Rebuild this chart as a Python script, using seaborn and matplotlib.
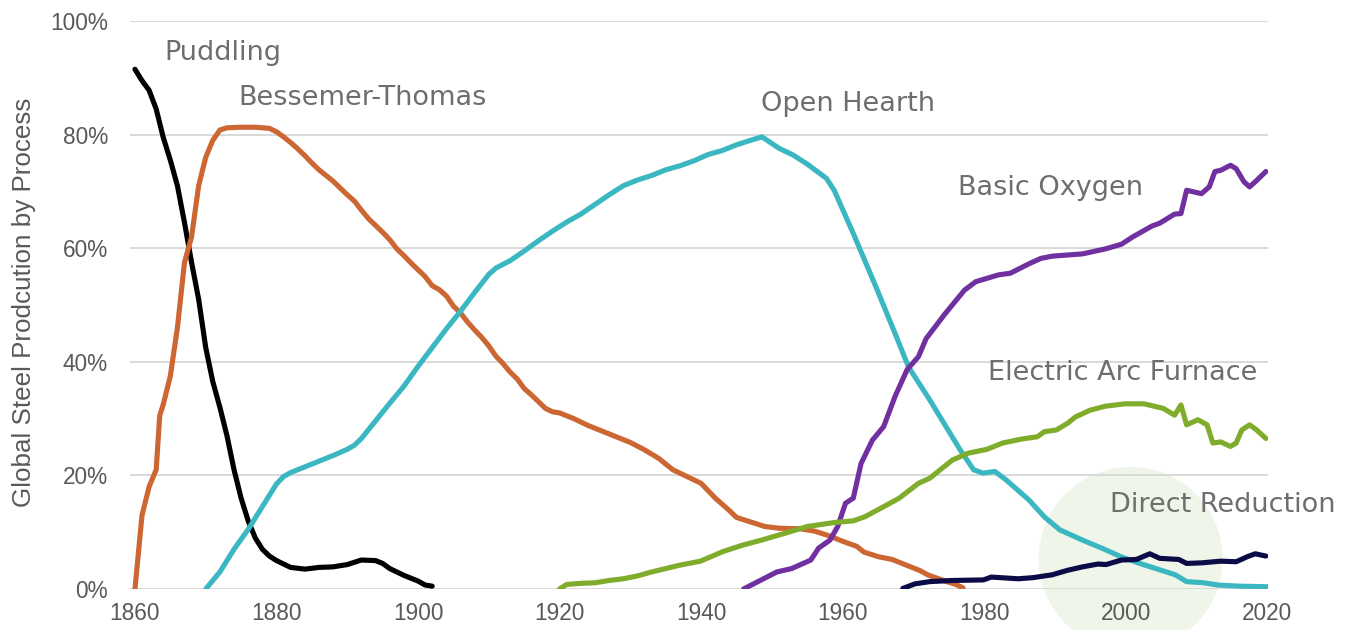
import numpy as np
import pandas as pd
import matplotlib
matplotlib.use("Agg")
import matplotlib.pyplot as plt
from matplotlib.patches import Ellipse
from matplotlib.ticker import FuncFormatter
import seaborn as sns

# ---------------- data (share of global steel production, %) ----------------
puddling_years = [1860, 1861, 1862, 1863, 1864, 1865, 1866, 1867, 1868, 1869, 1870, 1871,
                  1872, 1873, 1874, 1875, 1876, 1877, 1878, 1879, 1880, 1882, 1884, 1886,
                  1888, 1890, 1892, 1894, 1895, 1896, 1898, 1900, 1901, 1902]
puddling_vals = [91.5, 89.5, 87.8, 84.5, 79.5, 75.5, 71.0, 64.5, 57.5, 51.0, 42.5, 36.5,
                 32.0, 27.0, 21.0, 16.0, 12.0, 9.0, 7.0, 5.8, 5.0, 3.8, 3.5, 3.8,
                 3.9, 4.3, 5.1, 5.0, 4.5, 3.6, 2.4, 1.4, 0.7, 0.5]

bessemer_years = [1860, 1861, 1862, 1863, 1863.5, 1864, 1865, 1866, 1867, 1868, 1869, 1870,
                  1871, 1872, 1873, 1875, 1877, 1879, 1880, 1881, 1882, 1883, 1884, 1885,
                  1886, 1887, 1888, 1889, 1890, 1891, 1892, 1893, 1894, 1895, 1896, 1897,
                  1898, 1899, 1900, 1901, 1902, 1903, 1904, 1905, 1906, 1907, 1908, 1909,
                  1910, 1911, 1912, 1913, 1914, 1915, 1916, 1917, 1918, 1919, 1920, 1922,
                  1924, 1926, 1928, 1930, 1932, 1934, 1936, 1938, 1940, 1942, 1944, 1945,
                  1947, 1949, 1951, 1954, 1956, 1958, 1960, 1962, 1963, 1965, 1967, 1969,
                  1971, 1972, 1974, 1976, 1977]
bessemer_vals = [0.0, 13.0, 18.0, 21.0, 30.5, 32.5, 37.5, 46.0, 57.5, 62.0, 71.0, 76.0,
                 79.0, 80.8, 81.2, 81.3, 81.3, 81.1, 80.5, 79.6, 78.6, 77.5, 76.3, 75.0,
                 73.8, 72.8, 71.8, 70.6, 69.4, 68.3, 66.7, 65.2, 64.0, 62.8, 61.5, 59.9,
                 58.7, 57.4, 56.2, 55.0, 53.4, 52.7, 51.6, 49.8, 48.6, 47.0, 45.6, 44.3,
                 42.8, 41.0, 39.7, 38.2, 37.0, 35.3, 34.2, 33.0, 31.8, 31.2, 31.0, 30.0,
                 28.8, 27.8, 26.8, 25.8, 24.5, 23.0, 21.0, 19.8, 18.6, 16.0, 13.8, 12.6,
                 11.8, 11.0, 10.7, 10.6, 10.2, 9.4, 8.4, 7.5, 6.5, 5.7, 5.2, 4.2,
                 3.2, 2.5, 1.6, 0.8, 0.2]

open_hearth_years = [1870, 1871, 1872, 1874, 1876, 1878, 1880, 1881, 1882, 1884, 1886, 1888,
                     1890, 1891, 1892, 1894, 1896, 1898, 1900, 1902, 1904, 1906, 1908, 1910,
                     1911, 1913, 1915, 1917, 1919, 1921, 1923, 1925, 1927, 1929, 1931, 1933,
                     1935, 1937, 1939, 1941, 1943, 1945, 1947, 1948.6, 1951, 1953, 1955,
                     1957.7, 1958.8, 1961.5, 1964.7, 1967.4, 1969.3, 1972.3, 1976.6, 1978.5,
                     1979.8, 1981.5, 1983.1, 1986.3, 1988.5, 1990.7, 1993.9, 1996.6, 1999.3,
                     2002, 2005, 2007, 2008.6, 2011, 2013, 2016, 2020]
open_hearth_vals = [0.0, 1.5, 3.0, 7.0, 10.5, 14.5, 18.5, 19.8, 20.5, 21.5, 22.5, 23.5,
                    24.6, 25.3, 26.5, 29.6, 32.7, 35.7, 39.2, 42.5, 45.8, 48.9, 52.2, 55.4,
                    56.5, 57.8, 59.5, 61.3, 63.0, 64.6, 66.0, 67.7, 69.4, 71.0, 72.0, 72.8,
                    73.8, 74.5, 75.4, 76.5, 77.2, 78.2, 79.0, 79.6, 77.6, 76.4, 74.8,
                    72.3, 70.2, 62.6, 53.2, 45.0, 39.1, 33.3, 24.5, 21.0,
                    20.4, 20.7, 19.2, 15.7, 12.7, 10.4, 8.6, 7.2, 5.7,
                    4.5, 3.3, 2.5, 1.3, 1.1, 0.7, 0.5, 0.4]

basic_oxygen_years = [1946, 1948.5, 1950.7, 1952.8, 1955.5, 1956.6, 1958.2, 1959.3, 1960.4,
                      1961.5, 1962.6, 1964.2, 1965.8, 1967.4, 1969.1, 1970.7, 1971.8, 1974.5,
                      1977.2, 1978.8, 1982, 1983.7, 1986.4, 1988, 1989.6, 1993.9, 1997.2,
                      1999.4, 2001, 2003.7, 2004.8, 2006.9, 2007.8, 2008.6, 2010.7, 2011.8,
                      2012.6, 2013.4, 2014.8, 2015.6, 2016.7, 2017.5, 2018.3, 2019.8]
basic_oxygen_vals = [0.0, 1.6, 3.0, 3.6, 5.1, 7.2, 8.6, 11.0, 15.1,
                     16.0, 22.1, 26.2, 28.6, 33.9, 38.6, 40.9, 44.1, 48.5,
                     52.6, 54.1, 55.3, 55.6, 57.3, 58.2, 58.6, 59.0, 59.9,
                     60.7, 62.0, 63.9, 64.4, 66.0, 66.1, 70.2, 69.6, 70.8,
                     73.5, 73.7, 74.6, 74.0, 71.7, 70.8, 71.7, 73.5]

eaf_years = [1920, 1921, 1923, 1925, 1927, 1929, 1931, 1933, 1935, 1937, 1939.9, 1943.1,
             1945.8, 1948.5, 1951.8, 1955, 1958.8, 1961.5, 1963.1, 1965.8, 1968, 1970.7,
             1972.3, 1975.5, 1977.7, 1980.4, 1982.6, 1985.3, 1987.5, 1988.5, 1990.2,
             1991.8, 1992.9, 1995, 1997.2, 1999.9, 2002.6, 2005.3, 2006.9, 2007.8, 2008.6,
             2010.2, 2011.5, 2012.3, 2013.4, 2014.8, 2015.6, 2016.4, 2017.5, 2018.5, 2019.8]
eaf_vals = [0.0, 0.8, 1.0, 1.1, 1.5, 1.8, 2.3, 3.0, 3.6, 4.2, 4.9, 6.6,
            7.7, 8.6, 9.8, 11.0, 11.7, 12.0, 12.7, 14.5, 16.0, 18.6,
            19.5, 22.7, 23.9, 24.6, 25.7, 26.4, 26.8, 27.7, 28.0,
            29.2, 30.3, 31.5, 32.2, 32.6, 32.6, 31.8, 30.6, 32.4, 28.9,
            29.8, 28.9, 25.7, 25.9, 25.1, 25.7, 28.0, 28.9, 28.0, 26.5]

direct_red_years = [1968.5, 1970.2, 1972.3, 1975.5, 1979.9, 1981, 1984.8, 1986.9, 1989.6,
                    1991.8, 1993.9, 1996.1, 1997.2, 1999.4, 2001.5, 2003.4, 2004.8, 2007.5,
                    2008.6, 2010.7, 2013.4, 2015.6, 2017.2, 2018.3, 2019.8]
direct_red_vals = [0.1, 0.9, 1.3, 1.5, 1.6, 2.1, 1.8, 2.0, 2.5,
                   3.3, 3.9, 4.4, 4.3, 5.1, 5.2, 6.2, 5.4, 5.2,
                   4.5, 4.6, 4.9, 4.8, 5.7, 6.2, 5.8]

process_names = ["Puddling", "Bessemer-Thomas", "Open Hearth", "Basic Oxygen",
                 "Electric Arc Furnace", "Direct Reduction"]
x_ticks = [1860, 1880, 1900, 1920, 1940, 1960, 1980, 2000, 2020]
y_ticks = [0, 20, 40, 60, 80, 100]

# ---------------- build long table ----------------
series = [(puddling_years, puddling_vals), (bessemer_years, bessemer_vals),
          (open_hearth_years, open_hearth_vals), (basic_oxygen_years, basic_oxygen_vals),
          (eaf_years, eaf_vals), (direct_red_years, direct_red_vals)]
frames = []
for name, (yrs, vals) in zip(process_names, series):
    frames.append(pd.DataFrame({"Year": yrs, "Share": vals, "Process": name}))
df = pd.concat(frames, ignore_index=True)

palette = {"Puddling": "#000000", "Bessemer-Thomas": "#CC6633",
           "Open Hearth": "#3AB7C1", "Basic Oxygen": "#7030A0",
           "Electric Arc Furnace": "#80AC2C", "Direct Reduction": "#0B0B48"}

sns.set_theme(style="white")
plt.rcParams["font.family"] = ["Liberation Sans", "DejaVu Sans"]

fig = plt.figure(figsize=(13.53, 6.30), dpi=100)
ax = fig.add_axes([130 / 1353, 1 - 589 / 630, (1268 - 130) / 1353, (589 - 21) / 630])

# highlight circle behind Direct Reduction
circ = Ellipse((2000.7, 5.3), width=26.0, height=32.4, facecolor="#EFF5E8",
               edgecolor="none", zorder=0.2, clip_on=False)
ax.add_patch(circ)

sns.lineplot(data=df, x="Year", y="Share", hue="Process", palette=palette,
             hue_order=process_names, linewidth=3.7, legend=False, ax=ax,
             estimator=None, sort=False)
for ln in ax.lines:
    ln.set_solid_capstyle("round")
    ln.set_solid_joinstyle("round")
    ln.set_zorder(3)

ax.set_xlim(1859.3, 2020.1)
ax.set_ylim(0, 100)
ax.set_xticks(x_ticks)
ax.set_yticks(y_ticks)
ax.yaxis.set_major_formatter(FuncFormatter(lambda v, p: f"{int(v)}%"))
ax.grid(axis="y", color="#D9D9D9", linewidth=1.4)
ax.grid(axis="x", visible=False)
ax.set_axisbelow(True)
for s in ax.spines.values():
    s.set_visible(False)
ax.tick_params(axis="both", length=0, labelsize=16.3, colors="#595959")
ax.tick_params(axis="y", pad=16)
ax.tick_params(axis="x", pad=9)
ax.set_xlabel("")
ax.set_ylabel("Global Steel Prodcution by Process", fontsize=18.7, color="#595959")
ax.yaxis.set_label_coords(-0.0825, 0.505)
ax.set_facecolor("none")

# series labels (centred on the reference label positions)
label_pos = {"Puddling": (1872.4, 94.4), "Bessemer-Thomas": (1892.2, 86.4),
             "Open Hearth": (1960.8, 85.4), "Basic Oxygen": (1989.3, 70.6),
             "Electric Arc Furnace": (1999.6, 38.0), "Direct Reduction": (2013.7, 14.8)}
for name in process_names:
    x, y = label_pos[name]
    ax.text(x, y, name, fontsize=19.5, color="#6E6E6E", ha="center", va="center",
            family="DejaVu Sans", zorder=4, clip_on=False)

fig.savefig("out.png", dpi=100)
